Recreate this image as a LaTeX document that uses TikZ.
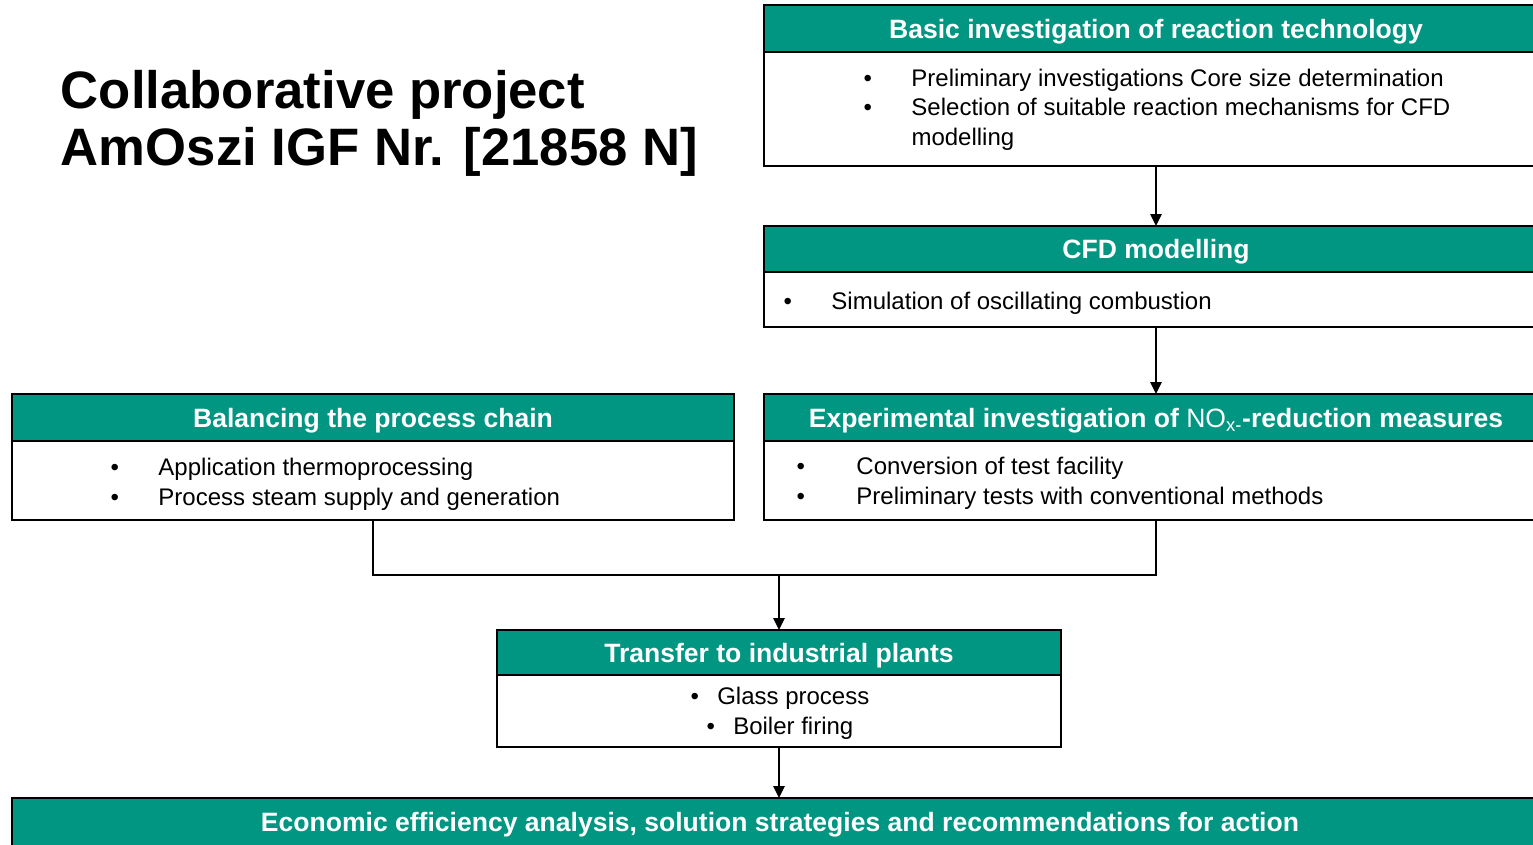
\documentclass[tikz,border=0pt]{standalone}
\usepackage{fontspec}
\setmainfont{Liberation Sans}
\usetikzlibrary{positioning,arrows.meta}
\definecolor{ifgreen}{RGB}{0,150,130}
\newcommand{\bitem}[2][36pt]{\makebox[#1][l]{\textbullet}#2}
\tikzset{every picture/.style={line width=0.75pt}}
\tikzset{
  head/.style={draw=black, line width=1.5pt, fill=ifgreen, text=white, inner sep=0pt, outer sep=0pt,
    text height=18.8pt, text depth=4pt, font=\fontsize{19.9}{23}\selectfont\bfseries},
  body/.style={draw=black, line width=1.5pt, fill=white, inner sep=0pt, outer sep=0pt},
  items/.style={font=\fontsize{18}{22.2}\selectfont, align=left, inner sep=0pt, anchor=west},
  conn/.style={line width=1.2pt},
  arr/.style={conn, -{Triangle[length=9pt,width=8.5pt]}},
}

\begin{document}
\begin{tikzpicture}[x=0.75pt,y=0.75pt,yscale=-1,xscale=1]
\clip (0,0) rectangle (1533,844);

% Title
\node[anchor=base west, font=\fontsize{39.5}{44}\selectfont\bfseries] (title1) at (56,108) {Collaborative project};
\node[anchor=base west, font=\fontsize{39.5}{44}\selectfont\bfseries] (title2) at (56,165) {AmOszi IGF Nr. [21858 N]};

%Shape: Rectangle [basic investigation]
\node[head, minimum width=588pt, minimum height=35.25pt] (basicHead) at (1156,28.5) {Basic investigation of reaction technology};
\node[body, minimum width=588pt, minimum height=85.5pt, below=0pt of basicHead] (basicBody) {};
% Text Node
\node[items] (basicText) at (863,109.5) {\bitem{Preliminary investigations Core size determination}\\
  \bitem{Selection of suitable reaction mechanisms for CFD}\\
  \hspace*{36pt}modelling};

%Shape: Rectangle [CFD]
\node[head, minimum width=588pt, minimum height=34.5pt] (cfdHead) at (1156,249) {CFD modelling};
\node[body, minimum width=588pt, minimum height=41.25pt, below=0pt of cfdHead] (cfdBody) {};
% Text Node
\node[items] (cfdText) at (783,303) {\bitem{Simulation of oscillating combustion}};

%Shape: Rectangle [experiments]
\node[head, minimum width=588pt, minimum height=35.25pt] (expHead) at (1156,417.5)
  {Experimental investigation of \mdseries NO\textsubscript{x-}\bfseries-reduction measures};
\node[body, minimum width=588pt, minimum height=59.25pt, below=0pt of expHead] (expBody) {};
% Text Node
\node[items] (expText) at (796,483.5) {\bitem[45pt]{Conversion of test facility}\\
  \bitem[45pt]{Preliminary tests with conventional methods}};

%Shape: Rectangle [process chain]
\node[head, minimum width=541.5pt, minimum height=35.25pt] (balHead) at (373,417.5) {Balancing the process chain};
\node[body, minimum width=541.5pt, minimum height=59.25pt, below=0pt of balHead] (balBody) {};
% Text Node
\node[items] (balText) at (110,484) {\bitem{Application thermoprocessing}\\
  \bitem{Process steam supply and generation}};

%Shape: Rectangle [transfer]
\node[head, minimum width=423pt, minimum height=33.75pt] (transHead) at (779,652.5) {Transfer to industrial plants};
\node[body, minimum width=423pt, minimum height=54pt, below=0pt of transHead] (transBody) {};
% Text Node
\node[items, align=center, anchor=center] (transText) at (780,713) {\bitem[20pt]{Glass process}\\
  \bitem[20pt]{Boiler firing}};

%Shape: Rectangle [economics]
\node[head, minimum width=1152pt, minimum height=36pt] (econHead) at (780,822)
  {Economic efficiency analysis, solution strategies and recommendations for action};

%Connectors
\coordinate (joinY) at (0,575);
\coordinate (join) at (transHead.north |- joinY);
\draw[arr] (basicBody.south) -- (cfdHead.north);
\draw[arr] (cfdBody.south) -- (expHead.north);
\draw[conn] (balBody.south) |- (join) -| (expBody.south);
\draw[arr] (join) -- (transHead.north);
\draw[arr] (transBody.south) -- (transBody.south |- econHead.north);

\end{tikzpicture}
\end{document}
